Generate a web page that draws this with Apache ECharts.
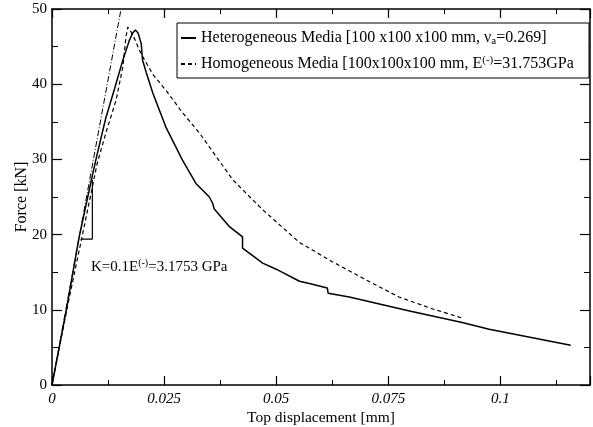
<!DOCTYPE html>
<html>
<head>
<meta charset="UTF-8">
<title>Force vs top displacement</title>
<style>
  html, body { margin: 0; padding: 0; background: #fff; }
  #main { width: 593px; height: 427px; }
</style>
<script src="https://cdn.jsdelivr.net/npm/echarts@6/dist/echarts.min.js"></script>
</head>
<body>
<div id="main"></div>
<script>
// values (displacement in mm, force in kN)
var heteroDisp = [0, 0.0032, 0.0060, 0.0088, 0.0100, 0.0120, 0.0140, 0.0158, 0.0173, 0.0180, 0.0186, 0.0192, 0.0199, 0.0202, 0.0210, 0.0225, 0.0254, 0.0291, 0.0321, 0.0351, 0.0358, 0.0362, 0.0395, 0.0425, 0.0425, 0.0470, 0.0500, 0.0552, 0.0574, 0.0614, 0.0616, 0.0663, 0.0800, 0.0915, 0.0975, 0.1157];
var heteroForce = [0, 10, 19.5, 27.3, 30.5, 35.5, 39.5, 43.2, 45.9, 46.8, 47.2, 46.8, 45.4, 43.2, 41.6, 38.8, 34.3, 29.9, 26.8, 25.0, 24.2, 23.4, 21.1, 19.7, 18.2, 16.2, 15.4, 13.8, 13.5, 12.9, 12.2, 11.7, 9.8, 8.3, 7.4, 5.3];

var homoDisp = [0, 0.0033, 0.0068, 0.0101, 0.0120, 0.0143, 0.0158, 0.0165, 0.0169, 0.0176, 0.0186, 0.0195, 0.0202, 0.0225, 0.0254, 0.0290, 0.0329, 0.0403, 0.0470, 0.0551, 0.0625, 0.0700, 0.0774, 0.0850, 0.0915];
var homoForce = [0, 10, 20, 29.5, 33.5, 37.9, 42.3, 46.3, 47.6, 47.0, 45.8, 44.5, 43.7, 41.3, 39.2, 36.3, 33.5, 27.3, 23.3, 19.0, 16.4, 14.0, 11.7, 10.1, 8.9];

// initial stiffness line (dash-dot) and slope triangle
var stiffDisp = [0, 0.0154];
var stiffForce = [0, 50];
var triDisp = [0.0064, 0.0090, 0.0090];
var triForce = [19.4, 19.4, 27.3];

var heteroName = 'Heterogeneous Media [100 x100 x100 mm, νa=0.269]';
var homoName = 'Homogeneous Media [100x100x100 mm, E(-)=31.753GPa';

function pairs(xs, ys) {
    return xs.map(function (x, i) { return [x, ys[i]]; });
}

var FONT = '"Liberation Serif", "DejaVu Serif", serif';

var chart = echarts.init(document.getElementById('main'));

var baseX = {
    type: 'value',
    min: 0,
    max: 0.12,
    interval: 0.025,
    axisLine: { show: true, onZero: false, lineStyle: { color: '#000', width: 1.5 } },
    axisTick: { show: true, inside: true, length: 9, lineStyle: { color: '#000', width: 1.2 } },
    minorTick: { show: true, splitNumber: 2, length: 5, lineStyle: { color: '#000', width: 1 } },
    splitLine: { show: false },
    minorSplitLine: { show: false }
};
var baseY = {
    type: 'value',
    min: 0,
    max: 50,
    interval: 10,
    axisLine: { show: true, onZero: false, lineStyle: { color: '#000', width: 1.5 } },
    axisTick: { show: true, inside: true, length: 10, lineStyle: { color: '#000', width: 1.2 } },
    minorTick: { show: true, splitNumber: 2, length: 6, lineStyle: { color: '#000', width: 1 } },
    splitLine: { show: false },
    minorSplitLine: { show: false }
};

var option = {
    backgroundColor: '#fff',
    animation: false,
    grid: { left: 52, top: 9, width: 538, height: 376, outerBoundsMode: 'none', containLabel: false },
    xAxis: [
        Object.assign({}, baseX, {
            position: 'bottom',
            name: 'Top displacement [mm]',
            nameLocation: 'middle',
            nameGap: 25,
            nameMoveOverlap: false,
            nameTextStyle: { fontFamily: FONT, fontSize: 15.5, color: '#000' },
            axisLabel: {
                fontFamily: FONT, fontSize: 15, fontStyle: 'italic', color: '#000',
                margin: 7, showMaxLabel: false,
                formatter: function (v) { return v === 0 ? '0' : String(+v.toFixed(3)); }
            }
        }),
        Object.assign({}, baseX, { position: 'top', axisLabel: { show: false } })
    ],
    yAxis: [
        Object.assign({}, baseY, {
            position: 'left',
            name: 'Force [kN]',
            nameLocation: 'middle',
            nameGap: 22,
            nameMoveOverlap: false,
            nameTextStyle: { fontFamily: FONT, fontSize: 16, color: '#000' },
            axisLabel: { fontFamily: FONT, fontSize: 15, color: '#000', margin: 5 }
        }),
        Object.assign({}, baseY, { position: 'right', axisLabel: { show: false } })
    ],
    legend: {
        data: [heteroName, homoName],
        orient: 'vertical',
        left: 180,
        top: 29,
        padding: 0,
        itemWidth: 15,
        itemHeight: 12,
        itemGap: 8,
        itemStyle: { opacity: 0 },
        selectedMode: false,
        textStyle: {
            fontFamily: FONT, fontSize: 16, color: '#000', lineHeight: 18,
            rich: {
                sub: { fontFamily: FONT, fontSize: 11, lineHeight: 9, verticalAlign: 'bottom', color: '#000' },
                sup: { fontFamily: FONT, fontSize: 11, lineHeight: 9, verticalAlign: 'top', color: '#000' },
                n: { fontFamily: FONT, fontSize: 16, lineHeight: 18, color: '#000' }
            }
        },
        formatter: function (name) {
            if (name === heteroName) {
                return '{n|Heterogeneous Media [100 x100 x100 mm, ν}{sub|a}{n|=0.269]}';
            }
            return '{n|Homogeneous Media [100x100x100 mm, E}{sup|(-)}{n|=31.753GPa}';
        }
    },
    graphic: [
        {
            type: 'rect',
            z: 3,
            shape: { x: 177, y: 23, width: 412, height: 55 },
            style: { fill: '#fff', stroke: '#000', lineWidth: 1 }
        },
        {
            type: 'text',
            z: 5,
            left: 91,
            top: 258,
            style: {
                text: '{n|K=0.1E}{sup|(-)}{n|=3.1753 GPa}',
                rich: {
                    n: { fontFamily: FONT, fontSize: 15, lineHeight: 19, fill: '#000' },
                    sup: { fontFamily: FONT, fontSize: 10, lineHeight: 10, verticalAlign: 'top', fill: '#000' }
                }
            }
        }
    ],
    series: [
        {
            name: heteroName,
            type: 'line',
            data: pairs(heteroDisp, heteroForce),
            symbol: 'none',
            itemStyle: { color: '#000' },
            lineStyle: { color: '#000', width: 1.5, type: 'solid' },
            z: 4
        },
        {
            name: homoName,
            type: 'line',
            data: pairs(homoDisp, homoForce),
            symbol: 'none',
            itemStyle: { color: '#000' },
            lineStyle: { color: '#000', width: 1.2, type: [4, 3] },
            z: 4
        },
        {
            name: 'stiffness',
            type: 'line',
            data: pairs(stiffDisp, stiffForce),
            symbol: 'none',
            itemStyle: { color: '#000' },
            lineStyle: { color: '#000', width: 1, type: [6, 2, 1, 2] },
            z: 3
        },
        {
            name: 'triangle',
            type: 'line',
            data: pairs(triDisp, triForce),
            symbol: 'none',
            itemStyle: { color: '#000' },
            lineStyle: { color: '#000', width: 1.2 },
            z: 3
        }
    ]
};

chart.setOption(option);
</script>
</body>
</html>
